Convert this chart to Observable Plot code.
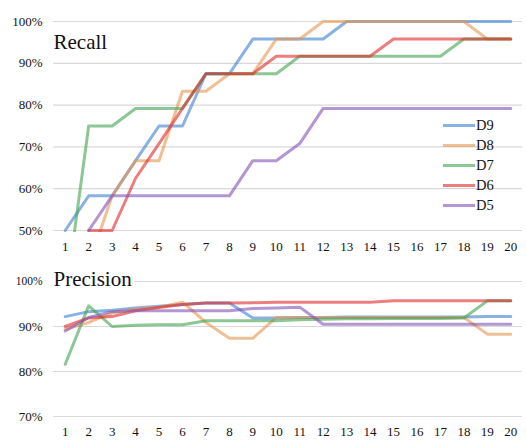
<!DOCTYPE html>
<html>
<head>
<meta charset="utf-8">
<script src="https://cdn.jsdelivr.net/npm/d3@7"></script>
<script src="https://cdn.jsdelivr.net/npm/@observablehq/plot@0.6"></script>
<style>
  body { margin: 0; background: #fff; font-family: "Liberation Serif", "Times New Roman", serif; }
  #wrap { position: relative; width: 526px; height: 444px; }
  #wrap svg { display: block; font-family: "Liberation Serif", "Times New Roman", serif !important; }
  #wrap svg text { font-family: "Liberation Serif", "Times New Roman", serif; }
  .legend { position: absolute; left: 443px; top: 115px; }
  .legend .row { display: flex; align-items: center; height: 20px; font-size: 14.5px; color: #111; }
  .legend .sw { display: inline-block; width: 32px; height: 3px; margin-right: 1px; opacity: 0.6; }
</style>
</head>
<body>
<div id="wrap"></div>
<script>
const steps = d3.range(1, 21);
const seriesNames = ["D9", "D8", "D7", "D6", "D5"];
const seriesColors = ["#3a7dce", "#e8954f", "#3fa24f", "#e02828", "#8250b4"];

const recallTicks = [50, 60, 70, 80, 90, 100];
const precisionTicks = [70, 80, 90, 100];

// Recall (%); null = below the visible 50% floor and not readable
const recallD9 = [50, 58.3, 58.3, 66.7, 75, 75, 87.5, 87.5, 95.8, 95.8, 95.8, 95.8, 100, 100, 100, 100, 100, 100, 100, 100];
const recallD8 = [null, 41.7, 58.3, 66.7, 66.7, 83.3, 83.3, 87.5, 87.5, 95.8, 95.8, 100, 100, 100, 100, 100, 100, 100, 95.8, 95.8];
const recallD7 = [33.3, 75, 75, 79.2, 79.2, 79.2, 87.5, 87.5, 87.5, 87.5, 91.7, 91.7, 91.7, 91.7, 91.7, 91.7, 91.7, 95.8, 95.8, 95.8];
const recallD6 = [null, 50, 50, 62.5, 70.8, 79.2, 87.5, 87.5, 87.5, 91.7, 91.7, 91.7, 91.7, 91.7, 95.8, 95.8, 95.8, 95.8, 95.8, 95.8];
const recallD5 = [null, 50, 58.3, 58.3, 58.3, 58.3, 58.3, 58.3, 66.7, 66.7, 70.8, 79.2, 79.2, 79.2, 79.2, 79.2, 79.2, 79.2, 79.2, 79.2];

// Precision (%)
const precisionD9 = [92.2, 93.3, 93.6, 94.1, 94.5, 94.9, 95.2, 95.2, 91.9, 91.9, 92.0, 92.0, 92.1, 92.1, 92.1, 92.1, 92.1, 92.1, 92.2, 92.2];
const precisionD8 = [89.4, 90.9, 93.0, 93.9, 94.3, 95.4, 90.9, 87.4, 87.4, 92.0, 92.0, 92.0, 92.0, 92.0, 92.0, 92.0, 92.0, 92.0, 88.3, 88.3];
const precisionD7 = [81.6, 94.6, 90.0, 90.3, 90.4, 90.4, 91.3, 91.3, 91.3, 91.3, 91.5, 91.6, 91.7, 91.7, 91.8, 91.8, 91.8, 91.9, 95.7, 95.7];
const precisionD6 = [90.0, 91.9, 92.2, 93.5, 94.2, 94.9, 95.2, 95.2, 95.3, 95.4, 95.4, 95.4, 95.4, 95.4, 95.7, 95.7, 95.7, 95.7, 95.7, 95.7];
const precisionD5 = [89.0, 92.0, 93.3, 93.5, 93.5, 93.5, 93.5, 93.5, 94.0, 94.1, 94.3, 90.5, 90.5, 90.5, 90.5, 90.5, 90.5, 90.5, 90.5, 90.5];

function tidy(lists) {
  return seriesNames.flatMap((name, i) => lists[i].map((v, j) => ({step: steps[j], value: v, series: name})));
}
const recallData = tidy([recallD9, recallD8, recallD7, recallD6, recallD5]);
const precisionData = tidy([precisionD9, precisionD8, precisionD7, precisionD6, precisionD5]);

const fontFamily = "Liberation Serif";
const baseStyle = {fontFamily, fontSize: "13px", color: "#111", background: "#fff", overflow: "visible"};

function panel({data, ticks, domain, title, height, marginTop, marginBottom, xPad, titleDy, clip}) {
  return Plot.plot({
    width: 526,
    height,
    marginTop,
    marginBottom,
    marginLeft: 53,
    marginRight: 4,
    style: baseStyle,
    x: {domain: [0.5, 20.5]},
    y: {domain},
    color: {domain: seriesNames, range: seriesColors},
    marks: [
      Plot.gridY(ticks, {stroke: "#d9d9d9", strokeOpacity: 1, strokeWidth: 1.2}),
      Plot.axisY(ticks, {tickSize: 0, tickPadding: 11, tickFormat: d => d + "%", label: null, fontFamily, fontSize: 13, fill: "#111"}),
      Plot.axisX(steps, {tickSize: 0, tickPadding: xPad, tickFormat: d => String(d), label: null, fontFamily, fontSize: 13, fill: "#111"}),
      Plot.line(data, {x: "step", y: "value", z: "series", stroke: "series", strokeWidth: 3, strokeOpacity: 0.6, strokeLinejoin: "round", clip}),
      Plot.text([title], {frameAnchor: "top-left", text: d => d, fontFamily, fontSize: 21, lineAnchor: "bottom", textAnchor: "start", dy: titleDy, fill: "#111", stroke: "white", strokeWidth: 8, paintOrder: "stroke"})
    ]
  });
}

const wrap = document.getElementById("wrap");

const topPlot = panel({data: recallData, ticks: recallTicks, domain: [50, 100], title: "Recall", height: 258, marginTop: 21, marginBottom: 28, xPad: 11, titleDy: 27, clip: true});
wrap.appendChild(topPlot);
// let lines lying exactly on the 50% / 100% edges show their full width
topPlot.querySelectorAll("clipPath rect").forEach(r => {
  r.setAttribute("y", +r.getAttribute("y") - 2);
  r.setAttribute("height", +r.getAttribute("height") + 4);
});

const bottomPlot = panel({data: precisionData, ticks: precisionTicks, domain: [70, 100], title: "Precision", height: 186, marginTop: 23, marginBottom: 28, xPad: 10, titleDy: 4, clip: false});
wrap.appendChild(bottomPlot);
bottomPlot.querySelectorAll("text").forEach(t => { if (t.textContent === "100%") t.setAttribute("font-size", "11.5px"); });

// legend
const legend = document.createElement("div");
legend.className = "legend";
seriesNames.forEach((name, i) => {
  const row = document.createElement("div");
  row.className = "row";
  const sw = document.createElement("span");
  sw.className = "sw";
  sw.style.background = seriesColors[i];
  const lab = document.createElement("span");
  lab.textContent = name;
  row.appendChild(sw);
  row.appendChild(lab);
  legend.appendChild(row);
});
wrap.appendChild(legend);
</script>
</body>
</html>
